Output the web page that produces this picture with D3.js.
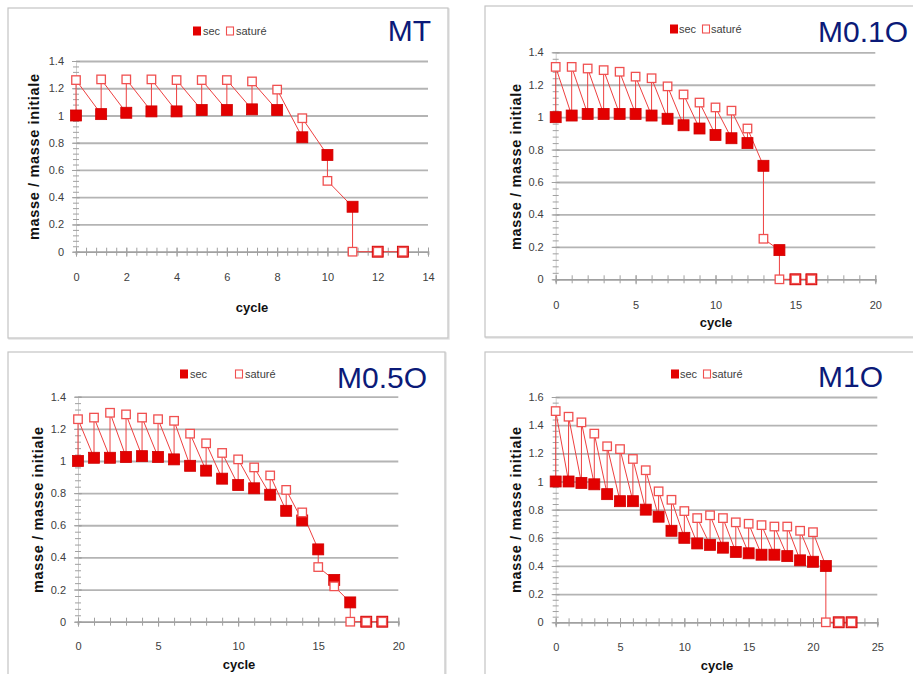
<!DOCTYPE html>
<html><head><meta charset="utf-8">
<script src="https://cdn.jsdelivr.net/npm/d3@7"></script>
<style>
html,body{margin:0;padding:0;background:#fff;}
svg{display:block;}
</style></head>
<body>
<svg id="chart" width="913" height="674"></svg>
<script>
// ---------- DATA ----------
const legendLabels = ["sec", "saturé"];
const xTitle = "cycle";
const yTitle = "masse / masse initiale";

// MT
const mtCycle = [0,1,2,3,4,5,6,7,8,9,10,11,12,13];
const mtSec   = [1.00,1.01,1.02,1.03,1.03,1.04,1.04,1.045,1.04,0.84,0.71,0.33,0,0];
const mtSat   = [1.26,1.265,1.265,1.265,1.26,1.26,1.26,1.25,1.19,0.98,0.52,0,0,0];
const mtXTicks = [0,2,4,6,8,10,12,14];
const mtXLabels = ["0","2","4","6","8","10","12","14"];
const mtYTicks = [0,0.2,0.4,0.6,0.8,1,1.2,1.4];
const mtYLabels = ["0","0.2","0.4","0.6","0.8","1","1.2","1.4"];

// M0.1O
const m01Cycle = [0,1,2,3,4,5,6,7,8,9,10,11,12,13,14,15,16];
const m01Sec   = [1.00,1.01,1.02,1.02,1.02,1.02,1.01,0.99,0.95,0.93,0.89,0.87,0.84,0.70,0.18,0,0];
const m01Sat   = [1.31,1.31,1.30,1.29,1.28,1.25,1.24,1.19,1.14,1.09,1.06,1.04,0.93,0.25,0,0,0];
const m01XTicks = [0,5,10,15,20];
const m01XLabels = ["0","5","10","15","20"];
const m01YTicks = [0,0.2,0.4,0.6,0.8,1,1.2,1.4];
const m01YLabels = ["0","0.2","0.4","0.6","0.8","1","1.2","1.4"];

// M0.5O
const m05Cycle = [0,1,2,3,4,5,6,7,8,9,10,11,12,13,14,15,16,17,18,19];
const m05Sec   = [1.00,1.02,1.02,1.025,1.03,1.025,1.01,0.97,0.94,0.89,0.85,0.83,0.79,0.69,0.63,0.45,0.26,0.12,0,0];
const m05Sat   = [1.26,1.27,1.30,1.29,1.27,1.26,1.25,1.17,1.11,1.05,1.01,0.96,0.91,0.82,0.68,0.34,0.22,0,0,0];
const m05XTicks = [0,5,10,15,20];
const m05XLabels = ["0","5","10","15","20"];
const m05YTicks = [0,0.2,0.4,0.6,0.8,1,1.2,1.4];
const m05YLabels = ["0","0.2","0.4","0.6","0.8","1","1.2","1.4"];

// M1O
const m1Cycle = [0,1,2,3,4,5,6,7,8,9,10,11,12,13,14,15,16,17,18,19,20,21,22,23];
const m1Sec   = [1.00,1.00,0.99,0.98,0.91,0.86,0.86,0.80,0.75,0.65,0.60,0.56,0.55,0.53,0.50,0.49,0.48,0.48,0.47,0.44,0.43,0.40,0,0];
const m1Sat   = [1.50,1.46,1.42,1.34,1.25,1.23,1.16,1.08,0.93,0.87,0.79,0.74,0.76,0.74,0.71,0.70,0.69,0.68,0.68,0.65,0.64,0,0,0];
const m1XTicks = [0,5,10,15,20,25];
const m1XLabels = ["0","5","10","15","20","25"];
const m1YTicks = [0,0.2,0.4,0.6,0.8,1,1.2,1.4,1.6];
const m1YLabels = ["0","0.2","0.4","0.6","0.8","1","1.2","1.4","1.6"];

// ---------- LAYOUT ----------
const panels = [
  {title:"MT", cycle:mtCycle, sec:mtSec, sat:mtSat, xTicks:mtXTicks, xLabels:mtXLabels, yTicks:mtYTicks, yLabels:mtYLabels,
   xMax:14, yMax:1.4, xMinor:0.4,
   box:[8,8,440,330], px:[76,428], py:[251.7,61], titleEnd:[431,41],
   leg:{y:31, fill:193, secX:203, open:226, satX:236},
   xLabBase:281, cycleX:252, cycleBase:312, yTitleX:33.5, yTitleY:157},
  {title:"M0.1O", cycle:m01Cycle, sec:m01Sec, sat:m01Sat, xTicks:m01XTicks, xLabels:m01XLabels, yTicks:m01YTicks, yLabels:m01YLabels,
   xMax:20, yMax:1.4, xMinor:1,
   box:[485,6,440,331], px:[555.7,875.3], py:[279.3,52.3], titleEnd:[908,42],
   leg:{y:29, fill:670, secX:679, open:702, satX:711},
   xLabBase:309, cycleX:716, cycleBase:327, yTitleX:515.5, yTitleY:167},
  {title:"M0.5O", cycle:m05Cycle, sec:m05Sec, sat:m05Sat, xTicks:m05XTicks, xLabels:m05XLabels, yTicks:m05YTicks, yLabels:m05YLabels,
   xMax:20, yMax:1.4, xMinor:1,
   box:[8,352,437,340], px:[78,398.3], py:[621.7,396.7], titleEnd:[427,388],
   leg:{y:374, fill:180, secX:190, open:235, satX:245},
   xLabBase:650, cycleX:239, cycleBase:669, yTitleX:38, yTitleY:510},
  {title:"M1O", cycle:m1Cycle, sec:m1Sec, sat:m1Sat, xTicks:m1XTicks, xLabels:m1XLabels, yTicks:m1YTicks, yLabels:m1YLabels,
   xMax:25, yMax:1.6, xMinor:1,
   box:[485,352,440,340], px:[555.7,877.3], py:[622.3,397], titleEnd:[883,387],
   leg:{y:374, fill:671, secX:680, open:703, satX:712},
   xLabBase:651, cycleX:717, cycleBase:670, yTitleX:515.5, yTitleY:510}
];

const RED = "#e30000";
const OPEN = "#f05050";
const LINE = "#ee4040";
const GRID = "#b4b4b4";
const AXIS = "#a0a0a0";
const TXT = "#404040";
const FONT = "'Liberation Sans', Arial, sans-serif";

const svg = d3.select("#chart");

function drawPanel(p) {
  const g = svg.append("g");
  // frame
  g.append("rect").attr("x", p.box[0]+1).attr("y", p.box[1]+1).attr("width", p.box[2]).attr("height", p.box[3])
    .attr("fill","none").attr("stroke","#e4e4e4").attr("stroke-width",1.5);
  g.append("rect").attr("x", p.box[0]).attr("y", p.box[1]).attr("width", p.box[2]).attr("height", p.box[3])
    .attr("fill","#fff").attr("stroke","#c4c4c4").attr("stroke-width",1.2);

  const x = d3.scaleLinear().domain([0, p.xMax]).range(p.px);
  const y = d3.scaleLinear().domain([0, p.yMax]).range(p.py);
  const w = p.px[1] - p.px[0];

  // gridlines
  const grid = g.append("g").attr("transform", `translate(${p.px[0]},0)`)
    .call(d3.axisLeft(y).tickValues(p.yTicks.filter(v => v > 0)).tickSize(-w).tickFormat(""));
  grid.select(".domain").remove();
  grid.selectAll("line").attr("stroke", GRID).attr("stroke-width", 1.8);

  // y minor ticks (crossing)
  const yMinorVals = d3.range(0, p.yMax + 1e-9, p.yMax / (p.yTicks.length - 1) / 5);
  const yMinor = g.append("g").attr("transform", `translate(${p.px[0]},0)`)
    .call(d3.axisLeft(y).tickValues(yMinorVals).tickSize(3).tickFormat(""));
  yMinor.select(".domain").attr("stroke", "#d0d0d0").attr("stroke-width", 1);
  yMinor.selectAll(".tick line").attr("x1", 3).attr("x2", -3).attr("stroke", AXIS);

  // y major labels
  const yAx = g.append("g").attr("transform", `translate(${p.px[0]},0)`)
    .call(d3.axisLeft(y).tickValues(p.yTicks).tickSize(4).tickPadding(8).tickFormat((d,i) => p.yLabels[i]));
  yAx.select(".domain").remove();
  yAx.selectAll(".tick line").attr("x1", 4).attr("x2", -4).attr("stroke", AXIS);
  yAx.selectAll("text").attr("font-family", FONT).attr("font-size", 11).attr("fill", TXT);

  // x axis
  const xMinorVals = d3.range(0, p.xMax + 1e-9, p.xMinor);
  const xMinor = g.append("g").attr("transform", `translate(0,${p.py[0]})`)
    .call(d3.axisBottom(x).tickValues(xMinorVals).tickSize(3).tickFormat(""));
  xMinor.select(".domain").attr("stroke", AXIS).attr("stroke-width", 1.8);
  xMinor.selectAll(".tick line").attr("y1", -4).attr("y2", 4).attr("stroke", AXIS);

  const xAx = g.append("g").attr("transform", `translate(0,${p.py[0]})`)
    .call(d3.axisBottom(x).tickValues(p.xTicks).tickSize(4).tickFormat((d,i) => p.xLabels[i]));
  xAx.select(".domain").remove();
  xAx.selectAll(".tick line").attr("y1", -4).attr("y2", 5).attr("stroke", AXIS);
  xAx.selectAll("text").attr("font-family", FONT).attr("font-size", 11).attr("fill", TXT)
    .attr("dy", null).attr("y", p.xLabBase - p.py[0]);

  // series (zigzag line: sec -> saturé -> next sec ...)
  const pts = [];
  p.cycle.forEach((c, i) => { pts.push([c, p.sec[i]]); pts.push([c, p.sat[i]]); });
  g.append("path").datum(pts)
    .attr("d", d3.line().x(d => x(d[0])).y(d => y(d[1])))
    .attr("fill", "none").attr("stroke", LINE).attr("stroke-width", 1);

  const S = 11, O = 8.5;
  g.append("g").selectAll("rect").data(p.cycle.map((c,i) => [c, p.sec[i]])).join("rect")
    .attr("x", d => x(d[0]) - S/2).attr("y", d => y(d[1]) - S/2).attr("width", S).attr("height", S)
    .attr("fill", RED).attr("stroke", "#d00000").attr("stroke-width", 0.8);
  g.append("g").selectAll("rect").data(p.cycle.map((c,i) => [c, p.sat[i]])).join("rect")
    .attr("x", d => x(d[0]) - O/2).attr("y", d => y(d[1]) - O/2).attr("width", O).attr("height", O)
    .attr("fill", "#fff").attr("stroke", OPEN).attr("stroke-width", 1.3);

  // legend
  const L = p.leg;
  g.append("rect").attr("x", L.fill).attr("y", L.y - 4.5).attr("width", 8).attr("height", 9).attr("fill", RED);
  g.append("text").attr("x", L.secX).attr("y", L.y + 4).text(legendLabels[0])
    .attr("font-family", FONT).attr("font-size", 11).attr("fill", TXT);
  g.append("rect").attr("x", L.open + 0.5).attr("y", L.y - 4).attr("width", 7).attr("height", 8)
    .attr("fill", "#fff").attr("stroke", OPEN).attr("stroke-width", 1.1);
  g.append("text").attr("x", L.satX).attr("y", L.y + 4).text(legendLabels[1])
    .attr("font-family", FONT).attr("font-size", 11).attr("fill", TXT);

  // titles
  g.append("text").attr("x", p.titleEnd[0]).attr("y", p.titleEnd[1]).attr("text-anchor", "end")
    .text(p.title).attr("font-family", FONT).attr("font-size", 30).attr("fill", "#0b1a78");
  g.append("text").attr("x", p.cycleX).attr("y", p.cycleBase).attr("text-anchor", "middle")
    .text(xTitle).attr("font-family", FONT).attr("font-weight", "bold").attr("font-size", 13).attr("fill", "#111");
  g.append("text").attr("transform", `translate(${p.yTitleX},${p.yTitleY}) rotate(-90)`)
    .attr("text-anchor", "middle").attr("dominant-baseline", "central")
    .attr("textLength", 166).attr("lengthAdjust", "spacing")
    .text(yTitle).attr("font-family", FONT).attr("font-weight", "bold").attr("font-size", 14.5).attr("fill", "#111");
}

panels.forEach(drawPanel);
</script>
</body></html>
